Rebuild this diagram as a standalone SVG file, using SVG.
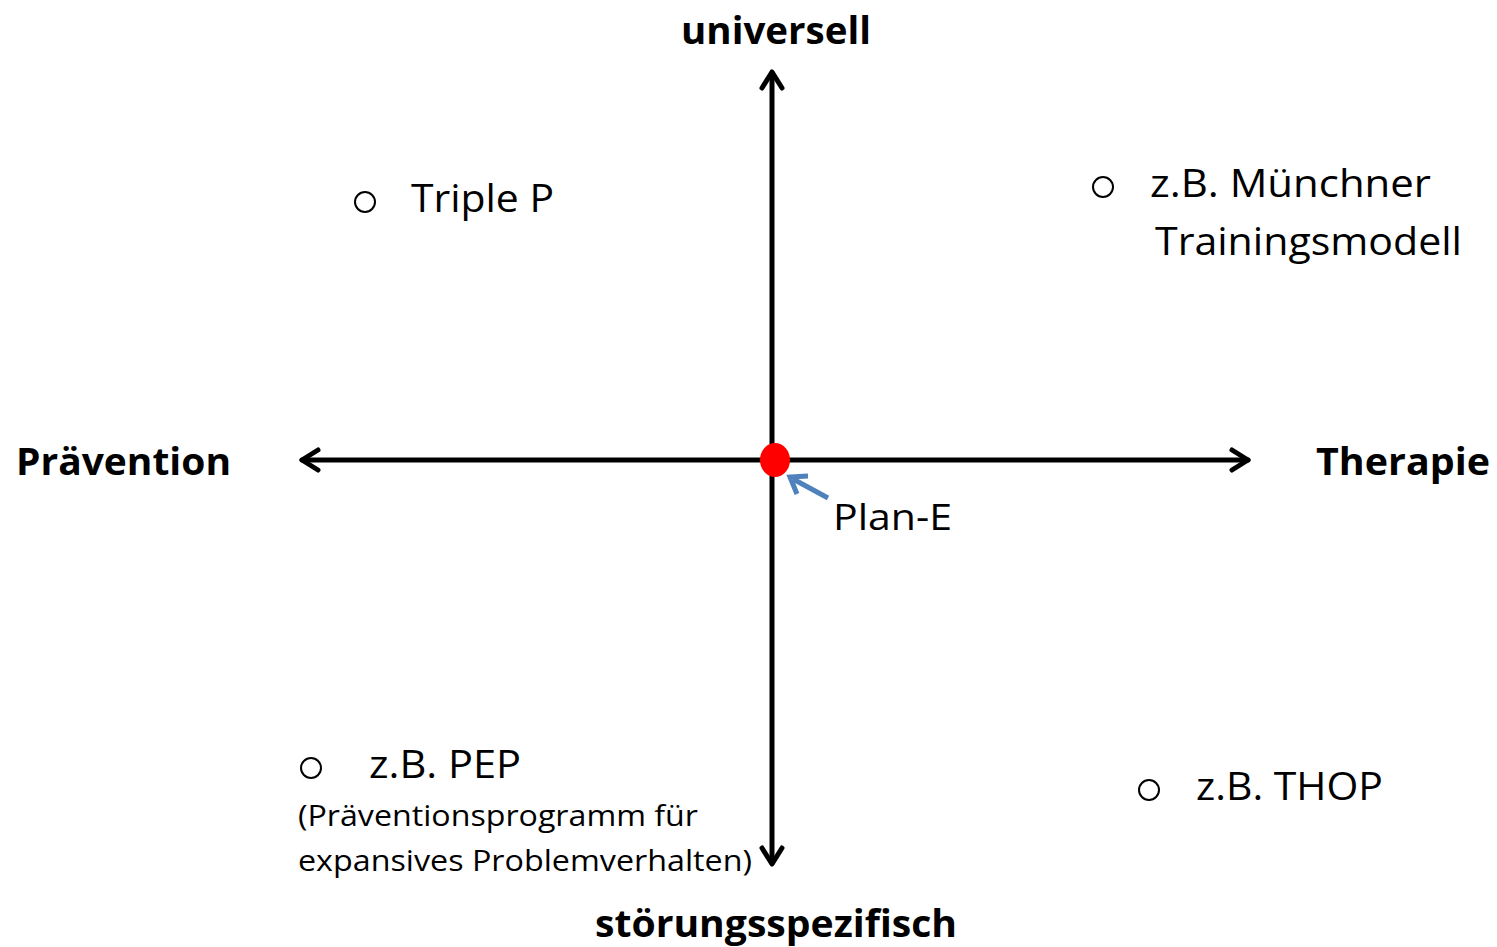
<svg xmlns="http://www.w3.org/2000/svg" width="1497" height="947" viewBox="0 0 1497 947">
<style>
.ax{stroke:#000;stroke-width:5;fill:none;stroke-linecap:round;stroke-linejoin:round}
.t{font-family:"Open Sans","Liberation Sans",sans-serif;fill:#000}
.b{font-family:"Open Sans","Liberation Sans",sans-serif;font-weight:bold;fill:#000;font-size:38px}
.bl{fill:none;stroke:#000;stroke-width:2}
</style>
<rect width="1497" height="947" fill="#fff"/>
<g id="connectors">
<line class="ax" x1="772" y1="73" x2="772" y2="863"/>
<polyline class="ax" points="762,88 772,72 782,88"/>
<polyline class="ax" points="762,848 772,864 782,848"/>
<line class="ax" x1="302" y1="460" x2="1248" y2="460"/>
<polyline class="ax" points="318,450 302,460 318,470"/>
<polyline class="ax" points="1232,450 1248,460 1232,470"/>
<line x1="828" y1="498" x2="793" y2="479" stroke="#4f81bd" stroke-width="5"/>
<polyline points="797,494 790,477 808,476" fill="none" stroke="#4f81bd" stroke-width="5" stroke-linejoin="miter"/>
</g>
<g id="center">
<ellipse cx="775" cy="460" rx="15" ry="17" fill="#ff0000"/>
<text class="t" x="833" y="530" font-size="37" textLength="119" lengthAdjust="spacingAndGlyphs">Plan-E</text>
</g>
<g id="universell"><text class="b" x="776" y="44" text-anchor="middle" textLength="190" lengthAdjust="spacingAndGlyphs">universell</text></g>
<g id="praevention"><text class="b" x="16" y="475" textLength="215" lengthAdjust="spacingAndGlyphs">Prävention</text></g>
<g id="therapie"><text class="b" x="1316" y="475" textLength="174" lengthAdjust="spacingAndGlyphs">Therapie</text></g>
<g id="stoerung"><text class="b" x="776" y="937" text-anchor="middle" textLength="362" lengthAdjust="spacingAndGlyphs">störungsspezifisch</text></g>
<g id="triplep">
<circle class="bl" cx="365" cy="202" r="10"/>
<text class="t" x="411" y="212" font-size="38" textLength="143" lengthAdjust="spacingAndGlyphs">Triple P</text>
</g>
<g id="muenchner">
<circle class="bl" cx="1103" cy="187" r="10"/>
<text class="t" x="1150" y="197" font-size="38" textLength="281" lengthAdjust="spacingAndGlyphs">z.B. Münchner</text>
<text class="t" x="1155" y="255" font-size="38" textLength="307" lengthAdjust="spacingAndGlyphs">Trainingsmodell</text>
</g>
<g id="pep">
<circle class="bl" cx="311" cy="768" r="10"/>
<text class="t" x="369" y="778" font-size="38" textLength="152" lengthAdjust="spacingAndGlyphs">z.B. PEP</text>
<text class="t" x="298" y="826" font-size="30" textLength="400" lengthAdjust="spacingAndGlyphs">(Präventionsprogramm für</text>
<text class="t" x="298" y="871" font-size="30" textLength="454" lengthAdjust="spacingAndGlyphs">expansives Problemverhalten)</text>
</g>
<g id="thop">
<circle class="bl" cx="1149" cy="790" r="10"/>
<text class="t" x="1196" y="800" font-size="38" textLength="187" lengthAdjust="spacingAndGlyphs">z.B. THOP</text>
</g>
</svg>
